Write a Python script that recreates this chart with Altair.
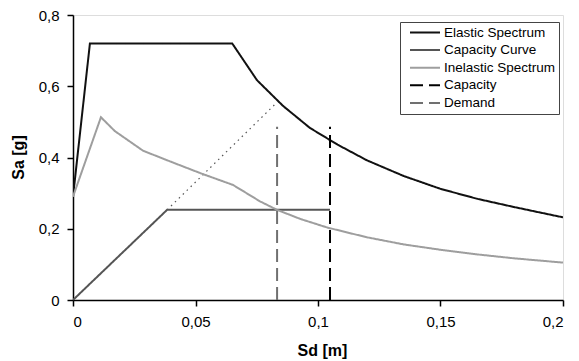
import altair as alt
import pandas as pd

# Elastic demand spectrum (ADRS), Sd [m] vs Sa [g]
elastic_sd = [0.0, 0.0069, 0.065, 0.0751, 0.0857, 0.0967, 0.108, 0.12, 0.135, 0.15, 0.165, 0.18, 0.2]
elastic_sa = [0.29, 0.72, 0.72, 0.617, 0.545, 0.483, 0.436, 0.392, 0.348, 0.312, 0.284, 0.261, 0.232]

# Bilinear capacity curve
capacity_sd = [0.0, 0.0384, 0.1049]
capacity_sa = [0.0, 0.253, 0.253]

# Inelastic (reduced) demand spectrum
inelastic_sd = [0.0, 0.0114, 0.0171, 0.0286, 0.040, 0.052, 0.0653, 0.0763, 0.0833, 0.093, 0.104,
                0.12, 0.135, 0.15, 0.165, 0.18, 0.2]
inelastic_sa = [0.29, 0.513, 0.474, 0.419, 0.388, 0.356, 0.323, 0.277, 0.253, 0.227, 0.203,
                0.176, 0.156, 0.141, 0.128, 0.117, 0.105]

# Displacement capacity and demand markers
capacity_point_sd = 0.1049
demand_point_sd = 0.0833
marker_top_sa = 0.486

# Elastic-stiffness extension of the capacity curve
extension_sd = [0.0384, 0.0833]
extension_sa = [0.253, 0.555]

series_names = ["Elastic Spectrum", "Capacity Curve", "Inelastic Spectrum", "Capacity", "Demand"]
series_colors = ["#111111", "#555555", "#9e9e9e", "#000000", "#707070"]
series_dashes = [[1, 0], [1, 0], [1, 0], [13, 6], [13, 6]]
series_widths = [2, 2, 2, 2.6, 2.6]

x_ticks = [0, 0.05, 0.1, 0.15, 0.2]
y_ticks = [0, 0.1, 0.2, 0.3, 0.4, 0.5, 0.6, 0.7, 0.8]

rows = []
def add(name, xs, ys):
    for i, (x, y) in enumerate(zip(xs, ys)):
        rows.append({"series": name, "sd": x, "sa": y, "idx": i})

add("Elastic Spectrum", elastic_sd, elastic_sa)
add("Capacity Curve", capacity_sd, capacity_sa)
add("Inelastic Spectrum", inelastic_sd, inelastic_sa)
add("Capacity", [capacity_point_sd, capacity_point_sd], [0.0, marker_top_sa])
add("Demand", [demand_point_sd, demand_point_sd], [0.0, marker_top_sa])
curves = pd.DataFrame(rows)

ext = pd.DataFrame({"sd": extension_sd, "sa": extension_sa})

font = "Liberation Sans"
label_expr = "replace(toString(datum.value), '.', ',')"

axis_style = dict(
    grid=False, tickSize=6, tickColor="#000000", tickWidth=1.5,
    domainColor="#000000", domainWidth=1.5, labelOverlap=False,
    labelFont=font, labelFontSize=15, labelColor="#000000",
    titleFont=font, titleFontSize=16, titleFontWeight="bold", titleColor="#000000",
    labelExpr=label_expr,
)

x_enc = alt.X("sd:Q", scale=alt.Scale(domain=[0, 0.2], nice=False),
              axis=alt.Axis(values=x_ticks, title="Sd [m]", labelPadding=8,
                            titleY=42, titleBaseline="top", titleX=249, **axis_style))
y_enc = alt.Y("sa:Q", scale=alt.Scale(domain=[0, 0.8], nice=False),
              axis=alt.Axis(values=y_ticks, title="Sa [g]", labelPadding=8,
                            titleX=-55, titleY=142, titleBaseline="middle", **axis_style))

legend_style = dict(title=None, orient="none", legendX=327, legendY=7,
                    symbolType="stroke", symbolSize=900, symbolStrokeWidth=2,
                    clipHeight=15, rowPadding=2.6, labelOffset=3, padding=3,
                    symbolOffset=6,
                    strokeColor="#444444", fillColor="white",
                    labelFontSize=13.5, labelFont=font, labelColor="#000000")

lines = alt.Chart(curves).mark_line(clip=True).encode(
    x=x_enc,
    y=y_enc,
    order="idx:Q",
    color=alt.Color("series:N", sort=series_names,
                    scale=alt.Scale(domain=series_names, range=series_colors),
                    legend=alt.Legend(**legend_style)),
    strokeDash=alt.StrokeDash("series:N", sort=series_names,
                              scale=alt.Scale(domain=series_names, range=series_dashes),
                              legend=alt.Legend(**legend_style)),
    strokeWidth=alt.StrokeWidth("series:N", sort=series_names,
                                scale=alt.Scale(domain=series_names, range=series_widths),
                                legend=None),
)

extension = alt.Chart(ext).mark_line(color="#555555", strokeWidth=1.2, strokeDash=[1.5, 4]).encode(
    x="sd:Q", y="sa:Q"
)

chart = alt.layer(extension, lines).properties(
    width=490, height=285,
    autosize=alt.AutoSizeParams(type="none"),
    padding={"left": 73, "top": 15, "right": 16, "bottom": 61},
).configure_view(
    stroke="#a8a8a8", strokeWidth=1.5
).configure(background="white")

chart.save("out.html", embed_options={"renderer": "svg", "actions": False})
